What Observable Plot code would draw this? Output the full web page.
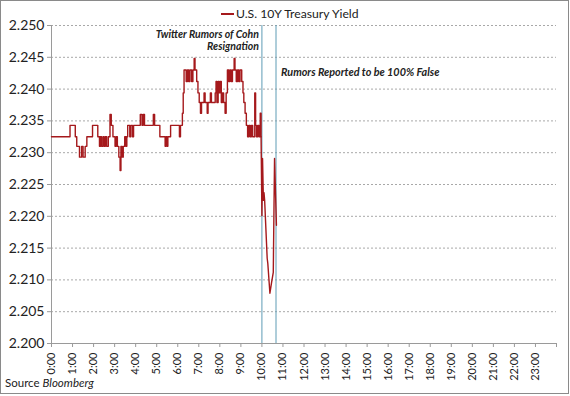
<!DOCTYPE html>
<html>
<head>
<meta charset="utf-8">
<script src="https://cdn.jsdelivr.net/npm/d3@7"></script>
<script src="https://cdn.jsdelivr.net/npm/@observablehq/plot@0.6"></script>
<style>
  html, body { margin: 0; padding: 0; background: #fff; }
  #wrap { position: relative; width: 570px; height: 396px; overflow: hidden; font-family: Lato, sans-serif; }
  #border { position: absolute; left: 0; top: 0; width: 567px; height: 392px; border: 1px solid #8a8a8a; pointer-events: none; }
  #title { position: absolute; left: 221px; top: 6px; font-size: 12.2px; color: #222; white-space: nowrap; display: flex; align-items: center; }
  #title .sw { display: inline-block; width: 13px; height: 2px; background: #a5191c; margin-right: 2px; }
  #source { position: absolute; left: 5px; top: 376px; font-size: 11.5px; color: #222; }
  #chart { position: absolute; left: 0; top: 0; }
</style>
</head>
<body>
<div id="wrap">
  <div id="chart"></div>
  <div id="title"><span class="sw"></span>U.S. 10Y Treasury Yield</div>
  <div id="source">Source <i>Bloomberg</i></div>
  <div id="border"></div>
</div>
<script>
// hours of day (decimal) and yields
const times = [
  0.00, 0.88, 1.13, 1.20, 1.33, 1.43, 1.50, 1.60, 1.68, 1.95,
  2.20, 2.28, 2.33, 2.38, 2.45, 2.50, 2.56, 2.62, 2.70, 2.78,
  2.84, 2.92, 3.02, 3.08, 3.13, 3.20, 3.26, 3.30, 3.36, 3.41,
  3.48, 3.53, 3.58, 3.62, 3.72, 3.77, 3.85, 3.90, 4.22, 4.30,
  4.36, 4.42, 4.84, 4.90, 5.15, 5.40, 5.44, 5.49, 5.53, 5.66,
  6.08, 6.13, 6.22, 6.26, 6.30, 6.40, 6.46, 6.52, 6.58, 6.66,
  6.72, 6.78, 6.82, 6.90, 6.96, 7.02, 7.08, 7.13, 7.25, 7.30,
  7.40, 7.44, 7.55, 7.60, 7.78, 7.82, 7.86, 7.92, 7.97, 8.02,
  8.07, 8.12, 8.18, 8.25, 8.30, 8.36, 8.42, 8.48, 8.54, 8.60,
  8.68, 8.72, 8.78, 8.84, 8.90, 8.96, 9.04, 9.10, 9.14, 9.20,
  9.26, 9.32, 9.38, 9.44, 9.50, 9.56, 9.66, 9.70, 9.74, 9.80,
  9.86, 9.92, 9.96, 10.00, 10.03, 10.07, 10.10, 10.13, 10.25, 10.28,
  10.38, 10.46, 10.54, 10.60, 10.69
];
const yields = [
  2.2325, 2.2343, 2.2325, 2.2310, 2.2293, 2.2310, 2.2293, 2.2310, 2.2325, 2.2343,
  2.2325, 2.2310, 2.2325, 2.2310, 2.2325, 2.2310, 2.2325, 2.2310, 2.2325, 2.2360,
  2.2343, 2.2325, 2.2310, 2.2325, 2.2310, 2.2293, 2.2272, 2.2310, 2.2293, 2.2310,
  2.2325, 2.2310, 2.2325, 2.2343, 2.2325, 2.2343, 2.2325, 2.2343, 2.2360, 2.2343,
  2.2360, 2.2343, 2.2360, 2.2343, 2.2325, 2.2310, 2.2325, 2.2310, 2.2325, 2.2343,
  2.2325, 2.2343, 2.2362, 2.2394, 2.2430, 2.2412, 2.2430, 2.2412, 2.2430, 2.2412,
  2.2430, 2.2448, 2.2430, 2.2412, 2.2394, 2.2379, 2.2362, 2.2379, 2.2394, 2.2379,
  2.2362, 2.2379, 2.2394, 2.2379, 2.2394, 2.2412, 2.2379, 2.2412, 2.2394, 2.2412,
  2.2379, 2.2394, 2.2379, 2.2362, 2.2394, 2.2430, 2.2412, 2.2430, 2.2412, 2.2430,
  2.2448, 2.2430, 2.2412, 2.2430, 2.2412, 2.2430, 2.2412, 2.2394, 2.2379, 2.2362,
  2.2343, 2.2325, 2.2343, 2.2325, 2.2343, 2.2325, 2.2394, 2.2343, 2.2325, 2.2343,
  2.2325, 2.2362, 2.2325, 2.2201, 2.2291, 2.2225, 2.2237, 2.2225, 2.2134, 2.2126,
  2.2079, 2.2096, 2.2112, 2.2291, 2.2186
];
const yTicks = [2.200, 2.205, 2.210, 2.215, 2.220, 2.225, 2.230, 2.235, 2.240, 2.245, 2.250];
const xTicks = d3.range(0, 25);
const xTickLabels = d3.range(0, 24).map(h => h + ":00");
const eventTimes = [10.0, 10.67];
const notes = [
  {t: 10.0, v: 2.2486, text: "Twitter Rumors of Cohn", side: "end"},
  {t: 10.0, v: 2.2466, text: "Resignation", side: "end"},
  {t: 10.67, v: 2.2426, text: "Rumors Reported to be 100% False", side: "start"}
];

const data = times.map((t, i) => ({t, v: yields[i]}));
const before = data.filter(d => d.t <= 9.96);
const after = data.filter(d => d.t >= 9.96);

const chart = Plot.plot({
  width: 570,
  height: 396,
  marginLeft: 51,
  marginRight: 14,
  marginTop: 25,
  marginBottom: 53,
  style: {fontFamily: "Lato, sans-serif", background: "transparent"},
  x: {domain: [0, 24]},
  y: {domain: [2.2, 2.25]},
  marks: [
    Plot.gridY(yTicks.slice(1), {stroke: "#a8a8a8", strokeOpacity: 1, strokeDasharray: "2,2"}),
    Plot.ruleY([2.2], {stroke: "#9a9a9a"}),
    Plot.ruleX([0], {stroke: "#9a9a9a"}),
    Plot.axisY(yTicks, {tickFormat: d3.format(".3f"), tickSize: 4, tickPadding: 3, fontSize: 14, stroke: "#9a9a9a", fill: "#222", label: null}),
    Plot.axisX(xTicks, {tickFormat: h => h < 24 ? xTickLabels[h] : "", tickSize: 4, tickPadding: 5, tickRotate: -90, fontSize: 11, stroke: "#9a9a9a", fill: "#222", label: null}),
    Plot.ruleX(eventTimes, {stroke: "#5e9cb5", strokeWidth: 1}),
    Plot.line(before, {x: "t", y: "v", curve: "step-after", stroke: "#a5191c", strokeWidth: 1.4}),
    Plot.line(after, {x: "t", y: "v", curve: "linear", stroke: "#a5191c", strokeWidth: 1.4}),
    Plot.text(notes.filter(d => d.side === "end"), {x: "t", y: "v", text: "text", textAnchor: "end", dx: -3, fontSize: 10.5, fontWeight: "bold", fontStyle: "italic", fill: "#222"}),
    Plot.text(notes.filter(d => d.side === "start"), {x: "t", y: "v", text: "text", textAnchor: "start", dx: 5, fontSize: 10.8, fontWeight: "bold", fontStyle: "italic", fill: "#222"})
  ]
});
document.getElementById("chart").appendChild(chart);
</script>
</body>
</html>
